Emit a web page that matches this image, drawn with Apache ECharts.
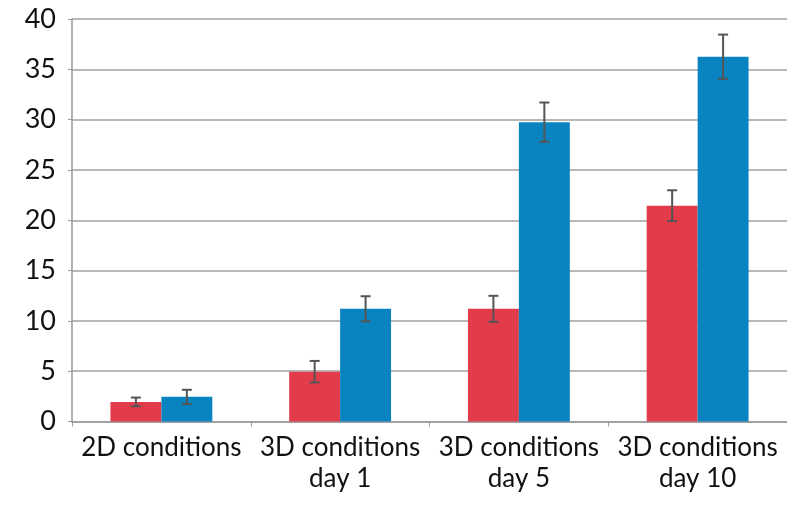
<!DOCTYPE html>
<html><head><meta charset="utf-8">
<script src="https://cdn.jsdelivr.net/npm/echarts@6/dist/echarts.min.js"></script>
<style>html,body{margin:0;padding:0;background:#fff}#c{width:787px;height:506px}</style>
</head><body><div id="c"></div>
<script>
const categories = ['2D conditions', '3D conditions\nday 1', '3D conditions\nday 5', '3D conditions\nday 10'];
const redValues = [1.95, 4.95, 11.2, 21.45];
const redErrors = [0.43, 1.07, 1.29, 1.53];
const blueValues = [2.45, 11.2, 29.75, 36.25];
const blueErrors = [0.7, 1.25, 1.95, 2.2];
const yTicks = [0, 5, 10, 15, 20, 25, 30, 35, 40];

const GAP = 0.43;
function errSeries(values, errors, side) {
  return {
    type: 'custom', z: 10,
    data: values.map((v, i) => [i, v - errors[i], v + errors[i]]),
    renderItem: function (params, api) {
      const i = api.value(0);
      const band = api.size([1, 0])[0];
      const bw = band * (1 - GAP) / 2;
      const lo = api.coord([i, api.value(1)]);
      const hi = api.coord([i, api.value(2)]);
      const x = lo[0] + side * bw / 2;
      const cap = 5;
      const st = { stroke: '#555', lineWidth: 2 };
      return { type: 'group', children: [
        { type: 'line', shape: { x1: x, y1: lo[1], x2: x, y2: hi[1] }, style: st },
        { type: 'line', shape: { x1: x - cap, y1: lo[1], x2: x + cap, y2: lo[1] }, style: st },
        { type: 'line', shape: { x1: x - cap, y1: hi[1], x2: x + cap, y2: hi[1] }, style: st }
      ]};
    }
  };
}

const chart = echarts.init(document.getElementById('c'));
chart.setOption({
  animation: false,
  textStyle: { fontFamily: 'Lato' },
  grid: { left: 72, top: 19, width: 718, height: 402.5, containLabel: false },
  xAxis: {
    type: 'category', data: categories,
    axisLine: { lineStyle: { color: '#999', width: 1.5 } },
    axisTick: { show: true, length: 5, lineStyle: { color: '#999' } },
    axisLabel: { color: '#111', fontSize: 26, lineHeight: 31, margin: 11, fontFamily: 'Lato',
      interval: 0, hideOverlap: false }
  },
  yAxis: {
    type: 'value', min: 0, max: 40, interval: 5,
    axisLine: { show: true, lineStyle: { color: '#999', width: 1.5 } },
    axisTick: { show: true, length: 4, lineStyle: { color: '#999' } },
    splitLine: { lineStyle: { color: '#a0a0a0', width: 1.5 } },
    axisLabel: { color: '#111', fontSize: 27, margin: 16, fontFamily: 'Lato',
      formatter: v => yTicks.includes(v) ? String(v) : '' }
  },
  series: [
    { type: 'bar', data: redValues, barGap: 0, barCategoryGap: (GAP * 100) + '%', itemStyle: { color: '#E23C4B' } },
    { type: 'bar', data: blueValues, barGap: 0, barCategoryGap: (GAP * 100) + '%', itemStyle: { color: '#0A84C1' } },
    errSeries(redValues, redErrors, -1),
    errSeries(blueValues, blueErrors, 1)
  ]
});
</script></body></html>
